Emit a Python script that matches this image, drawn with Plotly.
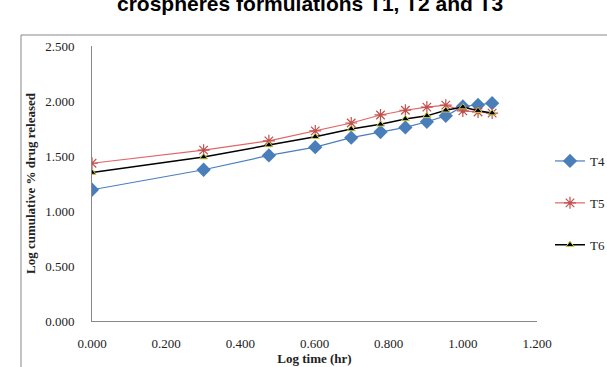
import plotly.graph_objects as go

log_time = [0.000, 0.301, 0.477, 0.602, 0.699, 0.778, 0.845, 0.903, 0.954, 1.000, 1.041, 1.079]
t4 = [1.193, 1.375, 1.505, 1.580, 1.667, 1.718, 1.760, 1.811, 1.865, 1.950, 1.964, 1.980]
t5 = [1.434, 1.553, 1.638, 1.728, 1.800, 1.873, 1.916, 1.945, 1.962, 1.910, 1.900, 1.890]
t6 = [1.350, 1.490, 1.600, 1.675, 1.746, 1.788, 1.837, 1.865, 1.916, 1.945, 1.912, 1.890]
x_ticks = [0, 0.2, 0.4, 0.6, 0.8, 1.0, 1.2]
y_ticks = [0, 0.5, 1.0, 1.5, 2.0, 2.5]

W, H = 607, 367
L, R, T, B = 92, 70, 46, 46

fig = go.Figure()
fig.add_trace(go.Scatter(x=log_time, y=t4, name="T4", legendgroup="a", mode="lines+markers",
                         line=dict(color="#4A7EBB", width=1.2),
                         marker=dict(symbol="diamond", size=11, color="#4A7EBB")))
fig.add_trace(go.Scatter(x=log_time, y=t5, name="T5", legendgroup="b", mode="lines+markers",
                         line=dict(color="#E06666", width=1.2),
                         marker=dict(symbol="asterisk-open", size=10, color="#C0504D",
                                     line=dict(color="#C0504D", width=1.2))))
fig.add_trace(go.Scatter(x=log_time, y=t6, name="T6", legendgroup="c", mode="lines+markers",
                         line=dict(color="#000000", width=1.5),
                         marker=dict(symbol="triangle-up", size=7, color="#000000",
                                     line=dict(color="#C9C94A", width=1))))

serif = "Liberation Serif, Times New Roman, serif"
pw = W - L - R
ph = H - T - B

fig.update_layout(
    width=W, height=H,
    margin=dict(l=L, r=R, t=T, b=B, autoexpand=False),
    paper_bgcolor="white", plot_bgcolor="white",
    font=dict(family=serif, size=13, color="#222"),
    showlegend=True,
    legend=dict(xref="container", yref="container", x=550 / W, y=1 - 146 / H,
                xanchor="left", yanchor="top",
                tracegroupgap=22, font=dict(family=serif, size=13, color="#222"),
                itemwidth=30, bgcolor="rgba(0,0,0,0)"),
    xaxis=dict(range=[0, 1.2], tickvals=x_ticks, ticktext=[f"{v:.3f}" for v in x_ticks],
               showgrid=False, zeroline=False, showline=True, linecolor="#888", linewidth=1,
               ticks="outside", ticklen=10, tickcolor="rgba(0,0,0,0)", automargin=False,
               title=dict(text="<b>Log time (hr)</b>", font=dict(family=serif, size=13), standoff=3)),
    yaxis=dict(range=[0, 2.5], tickvals=y_ticks, ticktext=[f"{v:.3f}" for v in y_ticks],
               showgrid=False, zeroline=False, showline=True, linecolor="#888", linewidth=1,
               ticks="outside", ticklen=14, tickcolor="rgba(0,0,0,0)", automargin=False,
               title=dict(text="<b>Log cumulative % drug released</b>", font=dict(family=serif, size=13), standoff=6)),
    shapes=[dict(type="rect", xref="paper", yref="paper",
                 x0=(21 - L) / pw, x1=1.5, y0=-0.3, y1=(H - B - 35) / ph,
                 line=dict(color="#888", width=1), fillcolor="rgba(0,0,0,0)", layer="below")],
    annotations=[dict(text="<b>crospheres formulations T1, T2 and T3</b>", xref="paper", yref="paper",
                      x=(310 - L) / pw, y=(H - B - 17) / ph, xanchor="center", yanchor="bottom",
                      showarrow=False, font=dict(family="Liberation Sans, Arial, sans-serif", size=21, color="#000"))],
)

fig.write_html("out.html")
